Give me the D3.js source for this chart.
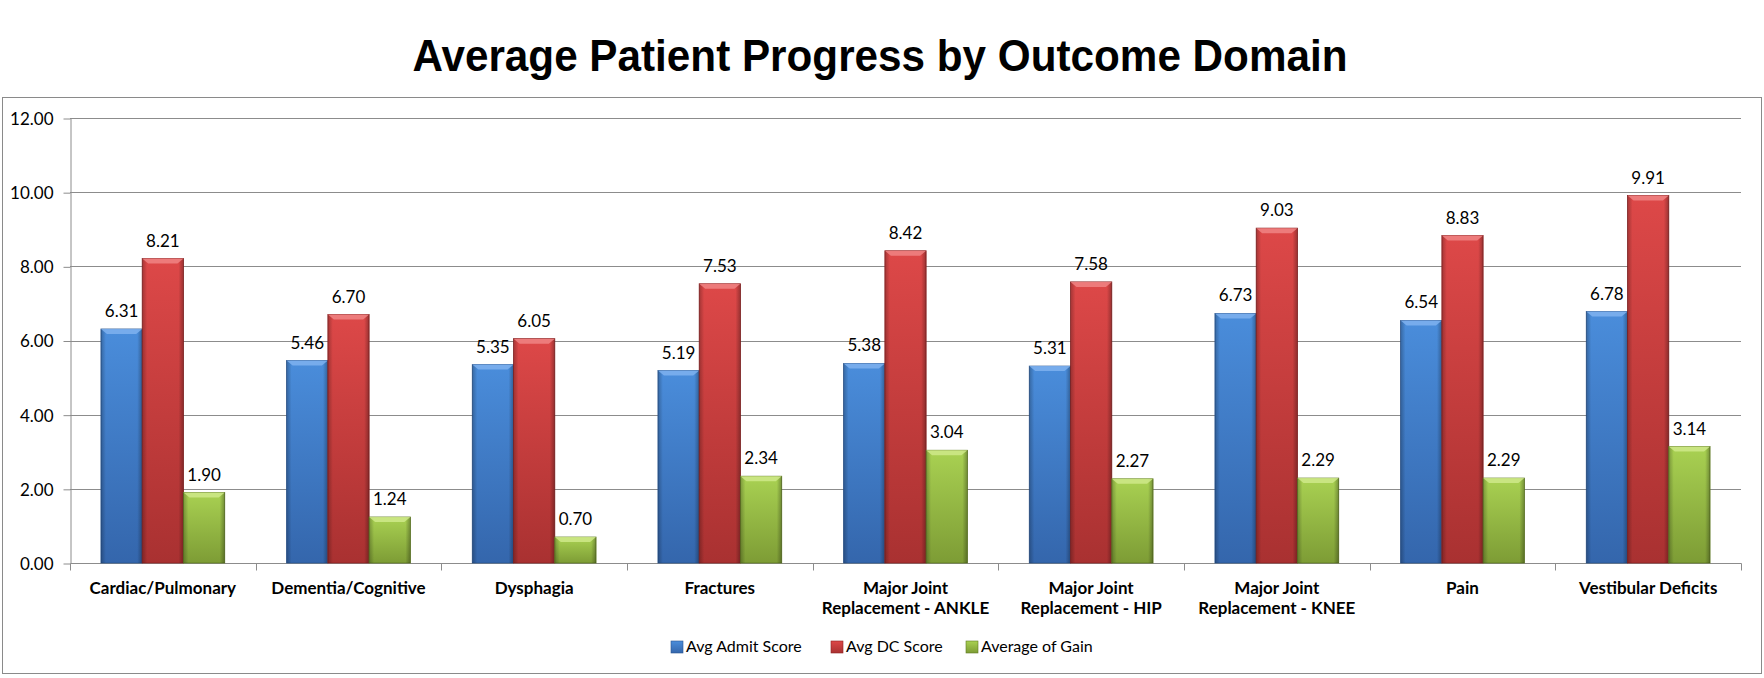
<html>
<head>
  <title>Average Patient Progress by Outcome Domain</title>
  <script src="https://d3js.org/d3.v7.min.js"></script>
  <style>
    body { margin: 0; background: #fff; }
    text { font-family: Lato, "Open Sans", sans-serif; fill: #000; }
  </style>
</head>
<body>
<script>
// chart values
var categories = ["Cardiac/Pulmonary", "Dementia/Cognitive", "Dysphagia", "Fractures",
  "Major Joint|Replacement - ANKLE", "Major Joint|Replacement - HIP",
  "Major Joint|Replacement - KNEE", "Pain", "Vestibular Deficits"];
var seriesNames = ["Avg Admit Score", "Avg DC Score", "Average of Gain"];
var admitScores = [6.31, 5.46, 5.35, 5.19, 5.38, 5.31, 6.73, 6.54, 6.78];
var dcScores = [8.21, 6.70, 6.05, 7.53, 8.42, 7.58, 9.03, 8.83, 9.91];
var gainScores = [1.90, 1.24, 0.70, 2.34, 3.04, 2.27, 2.29, 2.29, 3.14];
var yTicks = [0, 2, 4, 6, 8, 10, 12];

var width = 1764, height = 678;
var svg = d3.select("body").append("svg")
  .attr("width", width).attr("height", height);

// colours per series: top, bottom, edge
var palette = [
  { top: "#4a8ddb", bot: "#3466ac", edge: "#2a5590", bevel: "#7fb2ee" },
  { top: "#dd4848", bot: "#a93131", edge: "#8c2424", bevel: "#f08585" },
  { top: "#a9d152", bot: "#7d9c35", edge: "#5f7a22", bevel: "#cfe98a" }
];

var defs = svg.append("defs");
palette.forEach(function(p, i) {
  var g = defs.append("linearGradient").attr("id", "v" + i)
    .attr("x1", 0).attr("y1", 0).attr("x2", 0).attr("y2", 1);
  g.append("stop").attr("offset", "0%").attr("stop-color", p.top);
  g.append("stop").attr("offset", "100%").attr("stop-color", p.bot);
});
// horizontal edge shading
var hg = defs.append("linearGradient").attr("id", "hshade")
  .attr("x1", 0).attr("y1", 0).attr("x2", 1).attr("y2", 0);
hg.append("stop").attr("offset", "0%").attr("stop-color", "#000").attr("stop-opacity", 0.25);
hg.append("stop").attr("offset", "12%").attr("stop-color", "#000").attr("stop-opacity", 0.0);
hg.append("stop").attr("offset", "88%").attr("stop-color", "#000").attr("stop-opacity", 0.0);
hg.append("stop").attr("offset", "100%").attr("stop-color", "#000").attr("stop-opacity", 0.3);

// title
svg.append("text")
  .attr("x", 880).attr("y", 71)
  .attr("text-anchor", "middle")
  .style("font-family", "'Liberation Sans', Arial, sans-serif")
  .style("font-weight", "bold")
  .style("font-size", "45px")
  .attr("textLength", 935)
  .attr("lengthAdjust", "spacingAndGlyphs")
  .text("Average Patient Progress by Outcome Domain");

// outer chart border
svg.append("rect")
  .attr("x", 2.5).attr("y", 97.5).attr("width", 1759).attr("height", 576)
  .attr("fill", "none").attr("stroke", "#8a8a8a").attr("stroke-width", 1);

var x0 = d3.scaleBand().domain(categories).range([70, 1741]);
var unit = x0.bandwidth() / 4.5;
var x1 = d3.scaleBand().domain(seriesNames)
  .range([0.75 * unit, 3.75 * unit]);
var y = d3.scaleLinear().domain([0, 12]).range([563, 118]);

// gridlines
svg.append("g").selectAll("line").data(yTicks.slice(1)).enter().append("line")
  .attr("x1", 70).attr("x2", 1741)
  .attr("y1", function(d) { return Math.round(y(d)) + 0.5; })
  .attr("y2", function(d) { return Math.round(y(d)) + 0.5; })
  .attr("stroke", "#8c8c8c");

// y axis
var yAxis = svg.append("g").attr("transform", "translate(70.5,0.5)")
  .call(d3.axisLeft(y).tickValues(yTicks).tickSize(7).tickSizeOuter(0)
    .tickFormat(d3.format(".2f")));
yAxis.select(".domain").attr("stroke", "#8c8c8c");
yAxis.selectAll(".tick line").attr("stroke", "#8c8c8c");
yAxis.selectAll(".tick text").attr("x", -17).attr("dy", "0.35em")
  .style("font-size", "17px").style("font-family", "Lato, sans-serif");

// x axis
var xAxis = svg.append("g").attr("transform", "translate(0.5,563.5)");
xAxis.append("line").attr("x1", 70).attr("x2", 1741).attr("stroke", "#8c8c8c");
xAxis.selectAll("line.tk").data(d3.range(categories.length + 1)).enter().append("line")
  .attr("class", "tk")
  .attr("x1", function(i) { return Math.round(70 + i * x0.step()); })
  .attr("x2", function(i) { return Math.round(70 + i * x0.step()); })
  .attr("y1", 0).attr("y2", 7).attr("stroke", "#8c8c8c");

var catLabels = svg.append("g").selectAll("text").data(categories).enter().append("text")
  .attr("x", function(d) { return x0(d) + x0.bandwidth() / 2; })
  .attr("y", 594)
  .attr("text-anchor", "middle")
  .style("font-weight", "bold").style("font-size", "17px");
catLabels.each(function(d) {
  var lines = d.split("|");
  var t = d3.select(this);
  lines.forEach(function(l, i) {
    t.append("tspan").attr("x", x0(d) + x0.bandwidth() / 2)
      .attr("dy", i === 0 ? 0 : 20).text(l);
  });
});

// bars
var seriesData = [admitScores, dcScores, gainScores];
var bw = x1.bandwidth();
seriesData.forEach(function(vals, s) {
  var p = palette[s];
  var g = svg.append("g");
  var bar = g.selectAll("g").data(vals).enter().append("g")
    .attr("transform", function(d, i) {
      return "translate(" + (x0(categories[i]) + x1(seriesNames[s])) + ",0)";
    });
  bar.append("rect")
    .attr("x", 0).attr("width", bw)
    .attr("y", function(d) { return y(d); })
    .attr("height", function(d) { return y(0) - y(d); })
    .attr("fill", "url(#v" + s + ")")
    .attr("stroke", p.edge).attr("stroke-width", 0.8);
  bar.append("rect")
    .attr("x", 0).attr("width", bw)
    .attr("y", function(d) { return y(d); })
    .attr("height", function(d) { return y(0) - y(d); })
    .attr("fill", "url(#hshade)");
  // top bevel
  bar.append("path")
    .attr("d", function(d) {
      var t = y(d);
      return "M0," + t + "L" + bw + "," + t + "L" + (bw - 6) + "," + (t + 5) +
        "L6," + (t + 5) + "Z";
    })
    .attr("fill", p.bevel).attr("opacity", 0.85);
  // value label
  g.selectAll("text").data(vals).enter().append("text")
    .attr("x", function(d, i) { return x0(categories[i]) + x1(seriesNames[s]) + bw / 2; })
    .attr("y", function(d) { return y(d) - 12; })
    .attr("text-anchor", "middle")
    .style("font-size", "17px")
    .text(function(d) { return d3.format(".2f")(d); });
});

// legend
var legendX = [671, 831, 966];
var legend = svg.append("g").selectAll("g").data(seriesNames).enter().append("g")
  .attr("transform", function(d, i) { return "translate(" + legendX[i] + ",641)"; });
legend.append("rect").attr("width", 12).attr("height", 12)
  .attr("fill", function(d, i) { return "url(#v" + i + ")"; })
  .attr("stroke", function(d, i) { return palette[i].edge; }).attr("stroke-width", 0.6);
legend.append("text").attr("x", 15).attr("y", 11)
  .style("font-size", "16px")
  .text(function(d) { return d; });
</script>
</body>
</html>
